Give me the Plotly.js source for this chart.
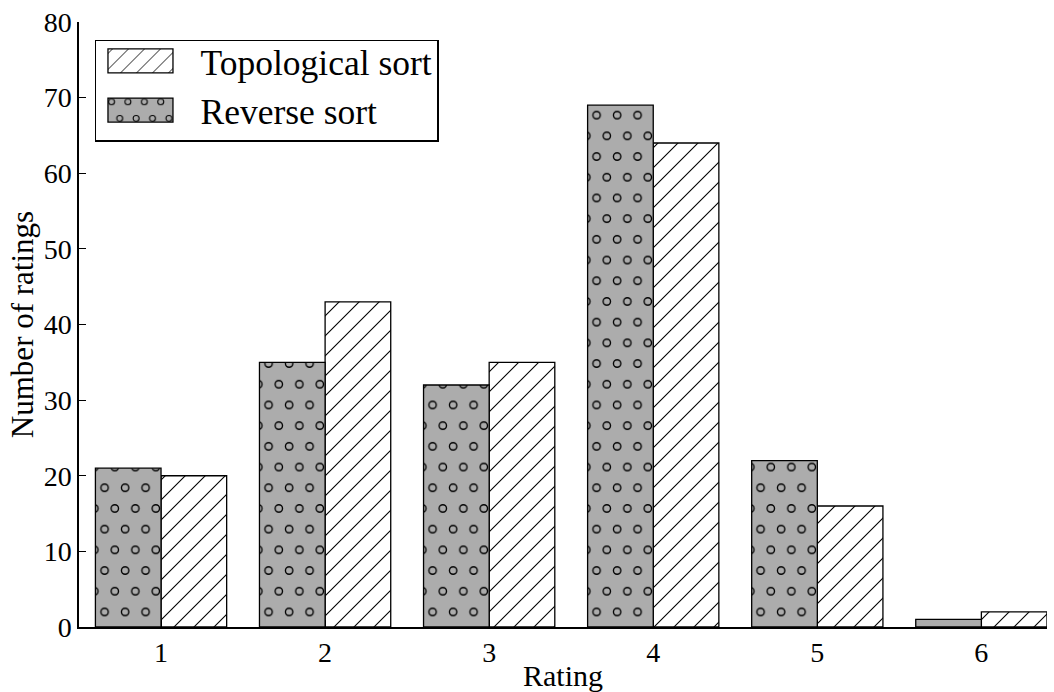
<!DOCTYPE html>
<html>
<head>
<meta charset="utf-8">
<script src="https://cdn.plot.ly/plotly-3.0.1.min.js"></script>
<style>
  html, body { margin: 0; padding: 0; background: #fff; }
  #chart { width: 1054px; height: 692px; }
</style>
</head>
<body>
<div id="chart"></div>
<script>
// Number of ratings per rating value, for the two orderings
const ratings = [1, 2, 3, 4, 5, 6];
const ratingLabels = ['1', '2', '3', '4', '5', '6'];
const topologicalSort = [20, 43, 35, 64, 16, 2];
const reverseSort = [21, 35, 32, 69, 22, 1];
const countTicks = [0, 10, 20, 30, 40, 50, 60, 70, 80];

const serif = '"Liberation Serif", "DejaVu Serif", serif';
const dotGrey = '#acacac';
const edge = { color: '#000', width: 1.3 };

const traces = [
  {
    type: 'bar', name: 'Topological sort', legendgroup: 'topo',
    x: ratings, y: topologicalSort, offset: 0, width: 0.4,
    marker: {
      color: '#fff', line: edge,
      pattern: { shape: '/', bgcolor: '#fff', fgcolor: '#000', size: 14.1, solidity: 0.08 }
    },
    hoverinfo: 'x+y'
  },
  {
    type: 'bar', name: 'Reverse sort', legendgroup: 'rev',
    x: ratings, y: reverseSort, offset: -0.4, width: 0.4,
    marker: {
      color: dotGrey, line: edge,
      pattern: { shape: '.', bgcolor: dotGrey, fgcolor: '#000', size: 10, solidity: 0.2 }
    },
    hoverinfo: 'x+y'
  }
];

const layout = {
  width: 1054, height: 692,
  margin: { l: 79, r: 7, t: 22, b: 65 },
  paper_bgcolor: '#fff', plot_bgcolor: '#fff',
  font: { family: serif, size: 28, color: '#000' },
  barmode: 'overlay',
  showlegend: true,
  legend: {
    x: 0.0165, y: 0.987, xanchor: 'left', yanchor: 'top',
    bgcolor: '#fff', bordercolor: '#000', borderwidth: 1.5,
    font: { family: serif, size: 35.5, color: '#000' },
    traceorder: 'grouped', tracegroupgap: 0, itemwidth: 94
  },
  xaxis: {
    range: [0.5, 6.4], tickvals: ratings, ticktext: ratingLabels,
    ticks: 'inside', ticklen: 7, tickwidth: 1.2, tickcolor: '#000',
    showline: true, linecolor: '#000', linewidth: 1.5,
    showgrid: false, zeroline: false,
    tickfont: { family: serif, size: 28 },
    title: { text: 'Rating', font: { family: serif, size: 30 }, standoff: 2 }
  },
  yaxis: {
    range: [0, 80], tickvals: countTicks,
    ticks: 'inside', ticklen: 7, tickwidth: 1.2, tickcolor: '#000',
    showline: true, linecolor: '#000', linewidth: 1.5,
    showgrid: false, zeroline: false,
    tickfont: { family: serif, size: 28 },
    title: { text: 'Number of ratings', font: { family: serif, size: 31 }, standoff: 1 }
  }
};

const SVGNS = 'http://www.w3.org/2000/svg';

function svgEl(tag, attrs) {
  const el = document.createElementNS(SVGNS, tag);
  Object.keys(attrs).forEach(function (k) { el.setAttribute(k, attrs[k]); });
  return el;
}

function resetTile(pat, w, h, bgColor) {
  pat.setAttribute('width', w);
  pat.setAttribute('height', h);
  while (pat.firstChild) pat.removeChild(pat.firstChild);
  pat.appendChild(svgEl('rect', { width: w, height: h, fill: bgColor }));
}

// Staggered grid of open rings on grey
function ringFill(pat) {
  resetTile(pat, 20.5, 41.4, dotGrey);
  [[5.1, 10.35], [15.35, 31.05]].forEach(function (c) {
    pat.appendChild(svgEl('circle', {
      cx: c[0], cy: c[1], r: 3.7,
      fill: 'none', stroke: '#000', 'stroke-width': 1.35
    }));
  });
}

// Single-direction diagonal hatch, 20 px apart horizontally
function hatchFill(pat) {
  const s = 20;
  resetTile(pat, s, s, '#fff');
  pat.appendChild(svgEl('path', {
    d: 'M-5,5L5,-5M0,' + s + 'L' + s + ',0M15,25L25,15',
    stroke: '#000', 'stroke-width': 1.1, fill: 'none'
  }));
}

function finish(gd) {
  gd.querySelectorAll('pattern').forEach(function (pat) {
    if (pat.querySelector('circle')) ringFill(pat);
    else if (pat.querySelector('path')) hatchFill(pat);
  });
  // wider legend swatches, sitting left of the symbol centre
  gd.querySelectorAll('.legend .legendpoints path').forEach(function (p) {
    p.setAttribute('d', 'M24.5,12H-40.5V-12H24.5Z');
  });
  // trim the empty band above the first legend entry
  const bg = gd.querySelector('.legend rect.bg');
  if (bg) {
    const y = parseFloat(bg.getAttribute('y')) || 0;
    const h = parseFloat(bg.getAttribute('height'));
    bg.setAttribute('y', y + 10);
    bg.setAttribute('height', h - 10);
  }
}

const gd = document.getElementById('chart');
Plotly.newPlot(gd, traces, layout, { displayModeBar: false, responsive: false })
  .then(finish);
</script>
</body>
</html>
